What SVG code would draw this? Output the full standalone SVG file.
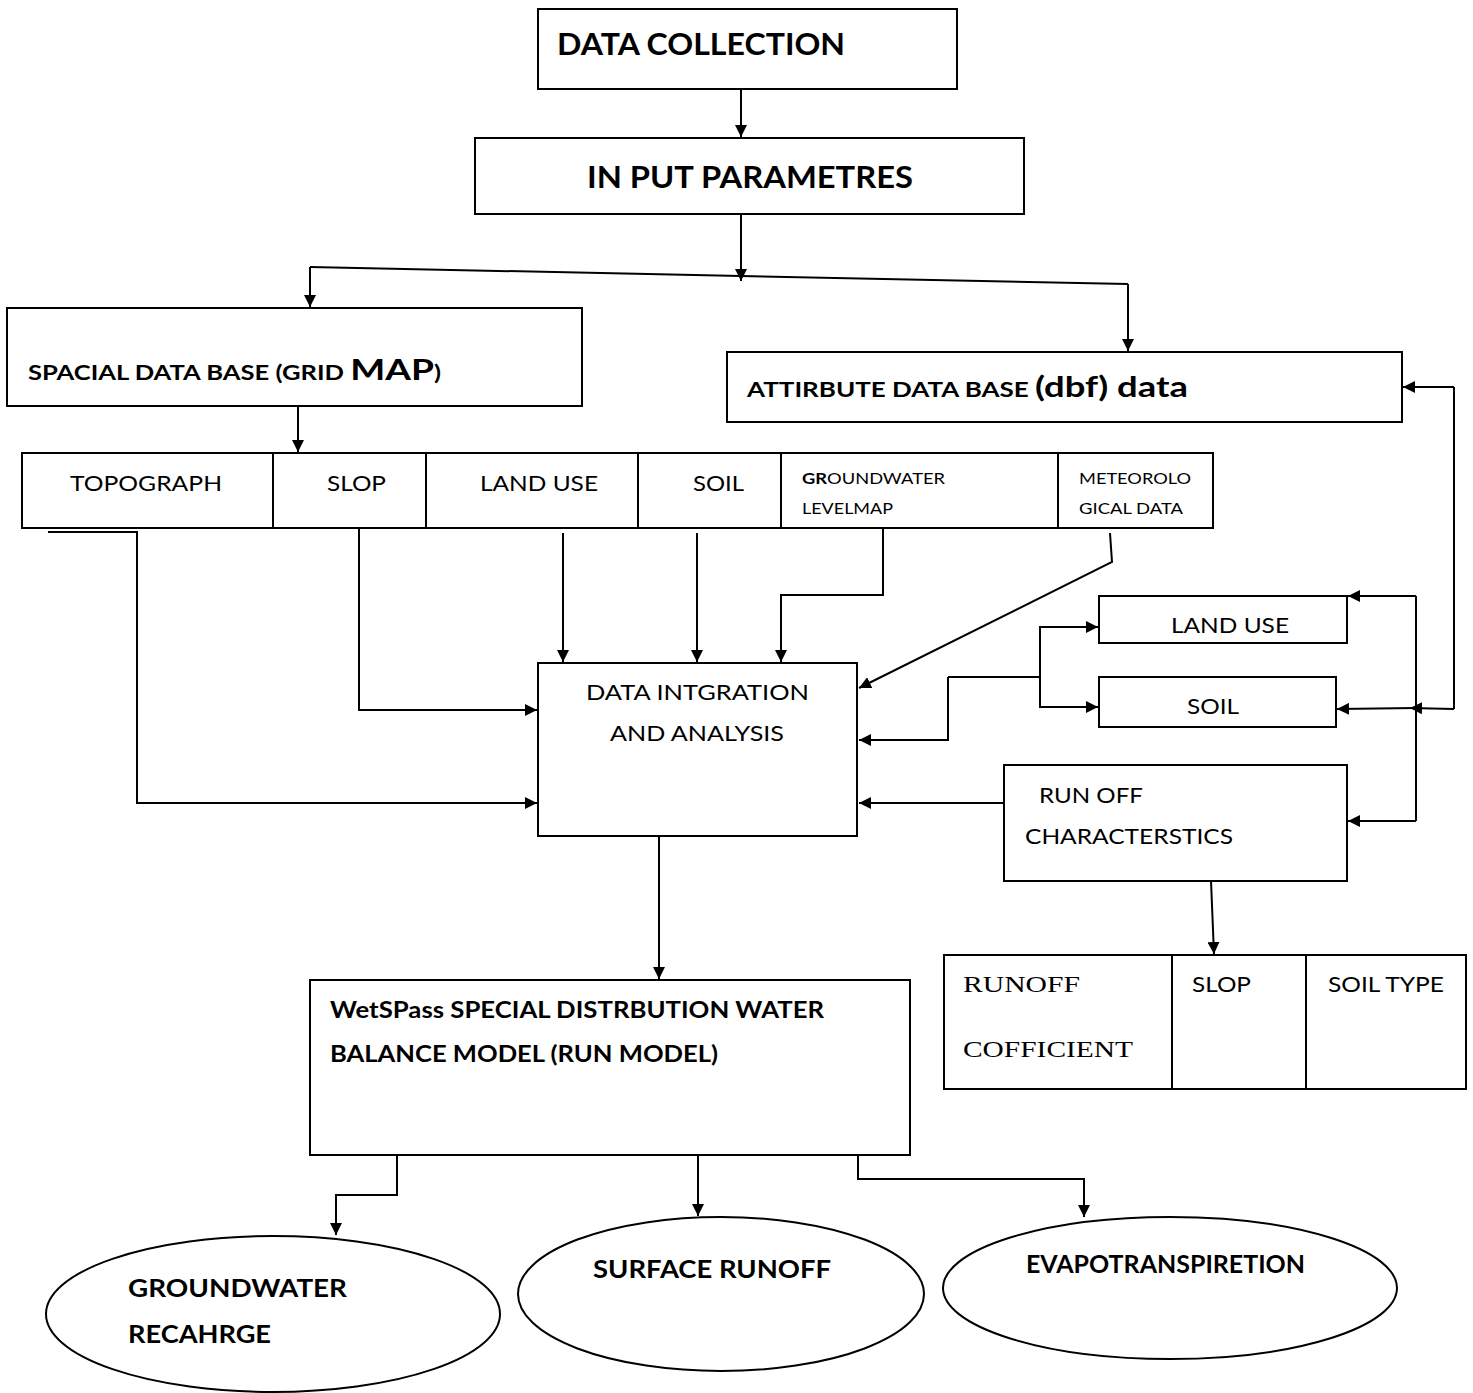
<svg xmlns="http://www.w3.org/2000/svg" width="1473" height="1393" viewBox="0 0 1473 1393">
<defs>
<marker id="ah" viewBox="0 0 12 12" refX="12" refY="6" markerWidth="12" markerHeight="12" markerUnits="userSpaceOnUse" orient="auto">
<path d="M0,0 L12,6 L0,12 z" fill="#000"/>
</marker>
</defs>
<style>
.box{fill:#fff;stroke:#000;stroke-width:2}
.ln{fill:none;stroke:#000;stroke-width:2}
.ar{fill:none;stroke:#000;stroke-width:2;marker-end:url(#ah)}
text{font-family:Lato,"Liberation Sans",sans-serif;fill:#000}
.b{font-weight:bold}
.ser{font-family:"Liberation Serif",serif}
</style>
<rect width="1473" height="1393" fill="#fff"/>

<g id="data-collection">
<rect class="box" x="538" y="9" width="419" height="80"/>
<text class="b" x="557" y="55" font-size="30" textLength="288" lengthAdjust="spacingAndGlyphs">DATA COLLECTION</text>
</g>

<g id="input-parametres">
<rect class="box" x="475" y="138" width="549" height="76"/>
<text class="b" x="587" y="188" font-size="30" textLength="326" lengthAdjust="spacingAndGlyphs">IN PUT PARAMETRES</text>
</g>

<g id="spacial-db">
<rect class="box" x="7" y="308" width="575" height="98"/>
<text class="b" x="28" y="380" font-size="20" textLength="413" lengthAdjust="spacingAndGlyphs">SPACIAL DATA BASE (GRID <tspan font-size="29">MAP</tspan>)</text>
</g>

<g id="attribute-db">
<rect class="box" x="727" y="352" width="675" height="70"/>
<text class="b" x="747" y="397" font-size="20" textLength="441" lengthAdjust="spacingAndGlyphs">ATTIRBUTE DATA BASE <tspan font-size="28">(dbf) data</tspan></text>
</g>

<g id="input-row">
<rect class="box" x="22" y="453" width="1191" height="75"/>
<path class="ln" d="M273,453 V528 M426,453 V528 M638,453 V528 M781,453 V528 M1058,453 V528"/>
<text x="70" y="491" font-size="22" textLength="152" lengthAdjust="spacingAndGlyphs">TOPOGRAPH</text>
<text x="327" y="491" font-size="22" textLength="59" lengthAdjust="spacingAndGlyphs">SLOP</text>
<text x="480" y="491" font-size="22" textLength="118" lengthAdjust="spacingAndGlyphs">LAND USE</text>
<text x="693" y="491" font-size="22" textLength="51" lengthAdjust="spacingAndGlyphs">SOIL</text>
<text x="802" y="484" font-size="16" textLength="143" lengthAdjust="spacingAndGlyphs"><tspan class="b">GR</tspan>OUNDWATER</text>
<text x="802" y="514" font-size="16" textLength="91" lengthAdjust="spacingAndGlyphs">LEVELMAP</text>
<text x="1079" y="484" font-size="16" textLength="112" lengthAdjust="spacingAndGlyphs">METEOROLO</text>
<text x="1079" y="514" font-size="16" textLength="104" lengthAdjust="spacingAndGlyphs">GICAL DATA</text>
</g>

<g id="data-integration">
<rect class="box" x="538" y="663" width="319" height="173"/>
<text x="586" y="700" font-size="22" textLength="223" lengthAdjust="spacingAndGlyphs">DATA INTGRATION</text>
<text x="610" y="741" font-size="22" textLength="174" lengthAdjust="spacingAndGlyphs">AND ANALYSIS</text>
</g>

<g id="land-use">
<rect class="box" x="1099" y="596" width="248" height="47"/>
<text x="1171" y="633" font-size="22" textLength="118" lengthAdjust="spacingAndGlyphs">LAND USE</text>
</g>

<g id="soil">
<rect class="box" x="1099" y="677" width="237" height="50"/>
<text x="1187" y="714" font-size="22" textLength="52" lengthAdjust="spacingAndGlyphs">SOIL</text>
</g>

<g id="runoff-characteristics">
<rect class="box" x="1004" y="765" width="343" height="116"/>
<text x="1039" y="803" font-size="22" textLength="104" lengthAdjust="spacingAndGlyphs">RUN OFF</text>
<text x="1025" y="844" font-size="22" textLength="208" lengthAdjust="spacingAndGlyphs">CHARACTERSTICS</text>
</g>

<g id="runoff-table">
<rect class="box" x="944" y="955" width="522" height="134"/>
<path class="ln" d="M1172,955 V1089 M1306,955 V1089"/>
<text class="ser" x="963" y="992" font-size="24" textLength="117" lengthAdjust="spacingAndGlyphs">RUNOFF</text>
<text class="ser" x="963" y="1057" font-size="24" textLength="170" lengthAdjust="spacingAndGlyphs">COFFICIENT</text>
<text x="1192" y="992" font-size="22" textLength="59" lengthAdjust="spacingAndGlyphs">SLOP</text>
<text x="1328" y="992" font-size="22" textLength="116" lengthAdjust="spacingAndGlyphs">SOIL TYPE</text>
</g>

<g id="wetspass">
<rect class="box" x="310" y="980" width="600" height="175"/>
<text class="b" x="330" y="1018" font-size="22" textLength="494" lengthAdjust="spacingAndGlyphs">WetSPass SPECIAL DISTRBUTION WATER</text>
<text class="b" x="330" y="1062" font-size="22" textLength="388" lengthAdjust="spacingAndGlyphs">BALANCE MODEL (RUN MODEL)</text>
</g>

<g id="groundwater-recharge">
<ellipse class="box" cx="273" cy="1314" rx="227" ry="78"/>
<text class="b" x="128" y="1297" font-size="24" textLength="219" lengthAdjust="spacingAndGlyphs">GROUNDWATER</text>
<text class="b" x="128" y="1343" font-size="24" textLength="143" lengthAdjust="spacingAndGlyphs">RECAHRGE</text>
</g>

<g id="surface-runoff">
<ellipse class="box" cx="721" cy="1294" rx="203" ry="77"/>
<text class="b" x="593" y="1278" font-size="24" textLength="238" lengthAdjust="spacingAndGlyphs">SURFACE RUNOFF</text>
</g>

<g id="evapotranspiration">
<ellipse class="box" cx="1170" cy="1288" rx="227" ry="71"/>
<text class="b" x="1026" y="1273" font-size="24" textLength="279" lengthAdjust="spacingAndGlyphs">EVAPOTRANSPIRETION</text>
</g>

<g id="connectors">
<path class="ar" d="M741,89 V137"/>
<path class="ln" d="M741,214 V268"/>
<path class="ar" d="M741,262 V281"/>
<path class="ln" d="M310,267 L1128,284"/>
<path class="ar" d="M310,267 V307"/>
<path class="ar" d="M1128,284 V351"/>
<path class="ar" d="M298,406 V452"/>
<path class="ar" d="M48,532 H137 V803 H537"/>
<path class="ar" d="M359,528 V710 H537"/>
<path class="ar" d="M563,533 V662"/>
<path class="ar" d="M697,533 V662"/>
<path class="ar" d="M883,528 V595 H781 V662"/>
<path class="ar" d="M1110,533 L1112,562 L859,688"/>
<path class="ar" d="M948,677 V740 H859"/>
<path class="ln" d="M948,677 H1040"/>
<path class="ar" d="M1040,677 V627 H1098"/>
<path class="ar" d="M1040,677 V707 H1098"/>
<path class="ar" d="M1004,803 H859"/>
<path class="ar" d="M1416,596 H1348"/>
<path class="ln" d="M1416,596 V821"/>
<path class="ar" d="M1416,821 H1348"/>
<path class="ar" d="M1454,709 L1410,708"/>
<path class="ar" d="M1416,708 L1337,709"/>
<path class="ln" d="M1454,709 V387"/>
<path class="ar" d="M1454,387 H1403"/>
<path class="ar" d="M1211,881 L1214,954"/>
<path class="ar" d="M659,836 V979"/>
<path class="ar" d="M397,1155 V1195 H336 V1235"/>
<path class="ar" d="M698,1155 V1216"/>
<path class="ar" d="M858,1155 V1179 H1084 V1217"/>
</g>
</svg>
